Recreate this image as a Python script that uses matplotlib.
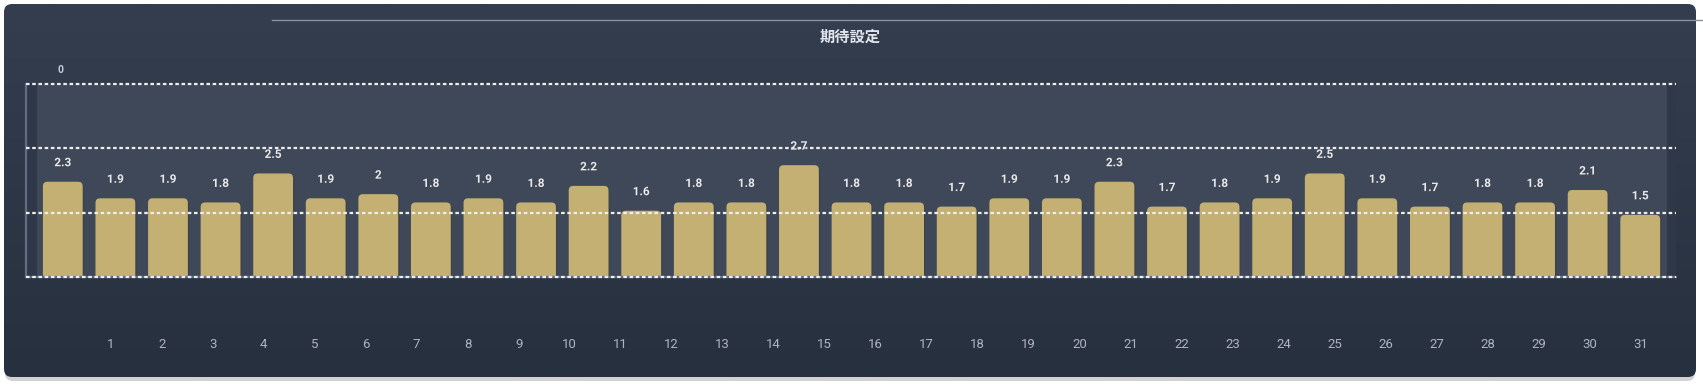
import numpy as np
import matplotlib.pyplot as plt
import matplotlib.patheffects as pe
from matplotlib.patches import FancyBboxPatch, Rectangle
from matplotlib.lines import Line2D

plt.rcParams['font.family'] = ['Roboto', 'Noto Sans CJK JP', 'DejaVu Sans']

title = "期待設定"
values = [2.3, 1.9, 1.9, 1.8, 2.5, 1.9, 2, 1.8, 1.9, 1.8, 2.2, 1.6, 1.8, 1.8, 2.7, 1.8,
          1.8, 1.7, 1.9, 1.9, 2.3, 1.7, 1.8, 1.9, 2.5, 1.9, 1.7, 1.8, 1.8, 2.1, 1.5]
day_labels = ["1", "2", "3", "4", "5", "6", "7", "8", "9", "10", "11", "12", "13", "14",
              "15", "16", "17", "18", "19", "20", "21", "22", "23", "24", "25", "26",
              "27", "28", "29", "30", "31"]
y_max = 4.66

W, H = 1703, 384
fig = plt.figure(figsize=(W / 100, H / 100), dpi=100)
fig.patch.set_facecolor("white")


def px(x0, y0, x1, y1):
    # figure fraction rect from pixel box (top-left origin)
    return [x0 / W, 1 - y1 / H, (x1 - x0) / W, (y1 - y0) / H]


# card background with gradient and shadow
bg = fig.add_axes([0, 0, 1, 1])
bg.set_xlim(0, W)
bg.set_ylim(H, 0)
bg.axis("off")
shadow = FancyBboxPatch((5, 8), 1690, 373, boxstyle="round,pad=0,rounding_size=8",
                        fc="#000000", ec="none", alpha=0.18)
bg.add_patch(shadow)
card = FancyBboxPatch((4, 4), 1692, 373, boxstyle="round,pad=0,rounding_size=8",
                      fc="none", ec="none")
bg.add_patch(card)
grad = np.linspace(0, 1, 256)[:, None]
top_c = np.array([0x34, 0x3e, 0x4f]) / 255
bot_c = np.array([0x27, 0x30, 0x3e]) / 255
img = top_c[None, None, :] * (1 - grad[:, :, None]) + bot_c[None, None, :] * grad[:, :, None]
im = bg.imshow(img, extent=(4, 1696, 377, 4), aspect="auto", zorder=1)
im.set_clip_path(card)
bg.add_line(Line2D([272, W], [20, 20], color="#8b919c", lw=1.0, zorder=3))

# main bar axes
n = len(values)
x = np.arange(n)
ax = fig.add_axes(px(26, 84, 1676, 277))
ax.set_facecolor("#2f3848")
ax.set_xlim(-0.70, 30.68)
ax.set_ylim(0, y_max)
ax.add_patch(Rectangle((-0.5, 0), 31, y_max, fc="#3f4858", ec="none", zorder=0))

bars = ax.bar(x, values, width=0.757, color="#c4b073", zorder=2)
# rounded tops
for b in bars:
    b.set_visible(False)
    r = FancyBboxPatch((b.get_x(), -0.3), b.get_width(), b.get_height() + 0.3,
                       boxstyle="round,pad=0,rounding_size=0.085", mutation_aspect=1.276,
                       fc="#c4b073", ec="none", zorder=2,
                       path_effects=[pe.SimplePatchShadow(offset=(1, -1), alpha=0.25), pe.Normal()])
    ax.add_patch(r)

for xi, v in zip(x, values):
    ax.annotate(f"{v:g}", (xi, v), xytext=(0, 13.7), textcoords="offset points",
                ha="center", va="center", fontsize=8.5, fontweight="bold", color="#e6e8ec",
                zorder=4, path_effects=[pe.withSimplePatchShadow(offset=(0.8, -0.8), alpha=0.5)])

for gy in [0, y_max / 3, 2 * y_max / 3, y_max]:
    ax.axhline(gy, color="#eeeeee", lw=1.6, ls=(0, (1.6, 1.2)), zorder=3, clip_on=False)

for s in ["top", "right"]:
    ax.spines[s].set_visible(False)
for s in ["left", "bottom"]:
    ax.spines[s].set_color("#5f6e85")
    ax.spines[s].set_linewidth(1.6)
ax.set_xticks([])
ax.set_yticks([])

# day labels on their own scale
ax2 = ax.twiny()
ax2.set_xlim(-0.659, 31.69)
ax2.xaxis.set_ticks_position("bottom")
ax2.set_xticks(range(1, 32))
ax2.set_xticklabels(day_labels, fontsize=9.5, color="#aeb5c1")
ax2.tick_params(axis="x", length=0, pad=44)
for s in ax2.spines.values():
    s.set_visible(False)

fig.text(850 / W, 1 - 37 / H, title, ha="center", va="center", fontsize=11,
         fontweight="bold", color="#e1e4ea", family=["Noto Sans CJK JP", "DejaVu Sans"])
fig.text(61 / W, 1 - 70 / H, "0", ha="center", va="center", fontsize=7.5,
         fontweight="bold", color="#c8cdd5")

fig.savefig("out.png", dpi=100, facecolor=fig.get_facecolor())
